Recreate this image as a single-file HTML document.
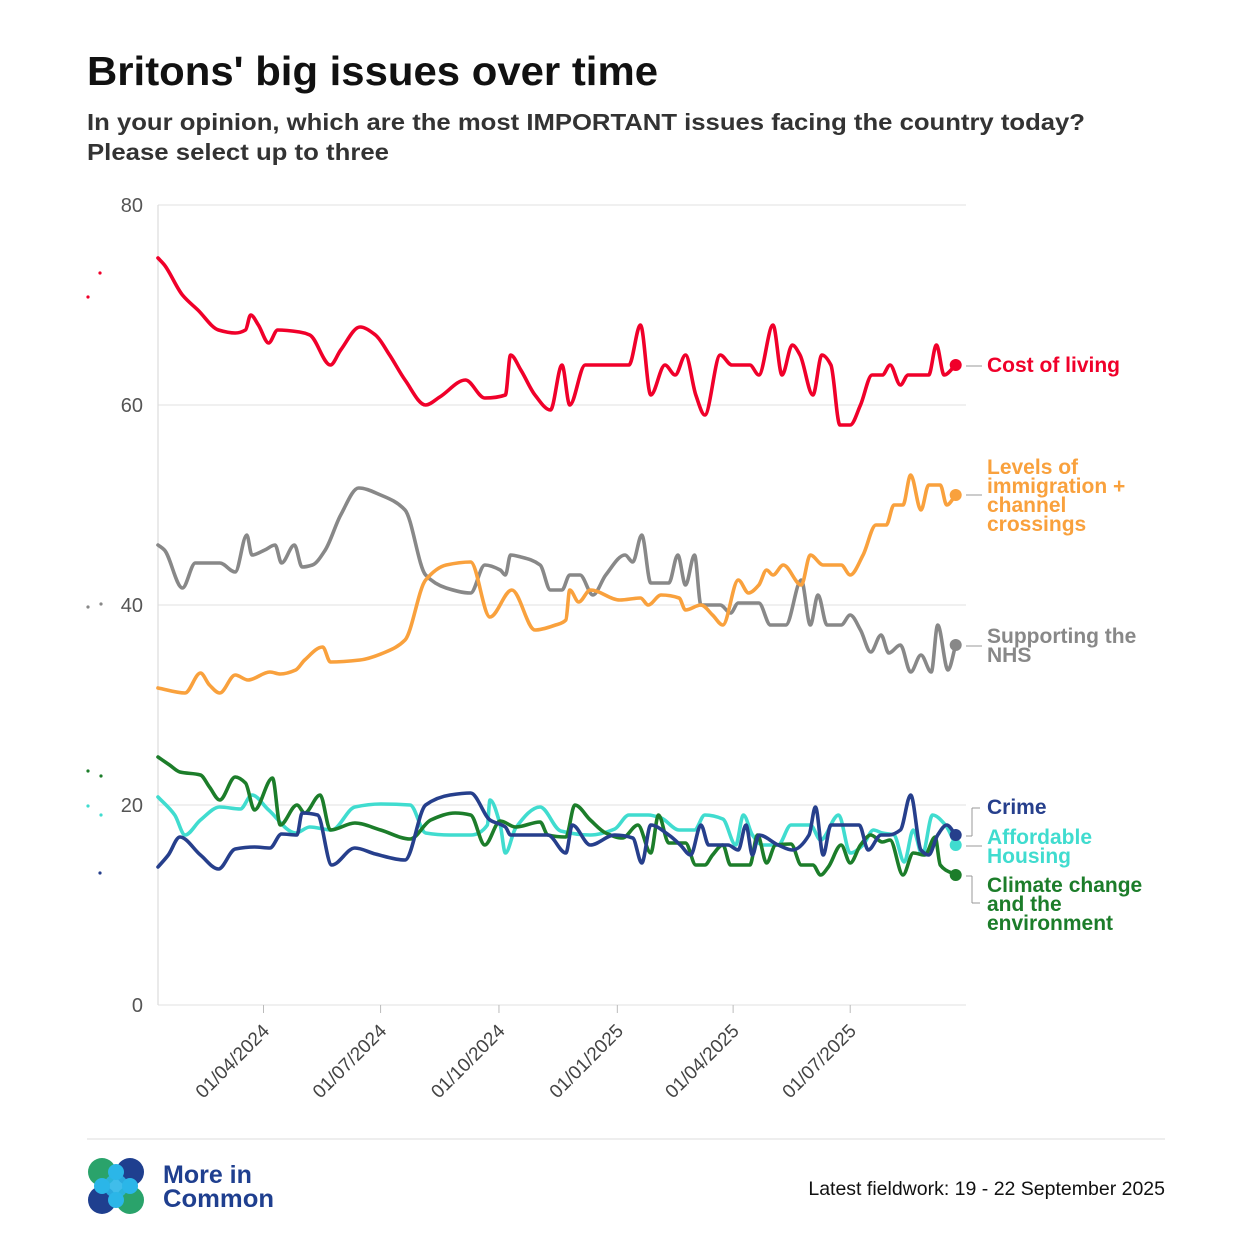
<!DOCTYPE html>
<html><head><meta charset="utf-8">
<style>
body{margin:0;background:#fff;width:1242px;height:1249px;overflow:hidden;font-family:"Liberation Sans",sans-serif}
svg text{font-family:"Liberation Sans",sans-serif}
</style></head>
<body>
<svg id="chart" width="1242" height="1249" viewBox="0 0 1242 1249" xmlns="http://www.w3.org/2000/svg">
<text x="87" y="85" font-size="41" font-weight="bold" fill="#111" textLength="571" lengthAdjust="spacingAndGlyphs">Britons' big issues over time</text>
<text x="87" y="130" font-size="23" font-weight="bold" fill="#333" textLength="998" lengthAdjust="spacingAndGlyphs">In your opinion, which are the most IMPORTANT issues facing the country today?</text>
<text x="87" y="160" font-size="23" font-weight="bold" fill="#333" textLength="302" lengthAdjust="spacingAndGlyphs">Please select up to three</text>
<g id="grid"></g><g id="lines"></g><g id="labels"></g>
<line x1="87" y1="1139" x2="1165" y2="1139" stroke="#ddd" stroke-width="1"/>
<g>
<circle cx="102" cy="1172" r="14" fill="#2aa36b"/><circle cx="130" cy="1172" r="14" fill="#1f3f8f"/>
<circle cx="102" cy="1200" r="14" fill="#1f3f8f"/><circle cx="130" cy="1200" r="14" fill="#2aa36b"/>
<circle cx="116" cy="1186" r="12" fill="#2bb6e8" opacity="0.9"/>
<circle cx="116" cy="1172" r="8" fill="#2bb6e8"/><circle cx="116" cy="1200" r="8" fill="#2bb6e8"/>
<circle cx="102" cy="1186" r="8" fill="#2bb6e8"/><circle cx="130" cy="1186" r="8" fill="#2bb6e8"/>
<text x="163" y="1183" font-size="25" font-weight="bold" fill="#1f3f8f">More in</text>
<text x="163" y="1207" font-size="25" font-weight="bold" fill="#1f3f8f" textLength="111" lengthAdjust="spacingAndGlyphs">Common</text>
</g>
<text x="1165" y="1195" font-size="19.5" fill="#111" text-anchor="end">Latest fieldwork: 19 - 22 September 2025</text>
</svg>
<script>
const yTicks=[0,20,40,60,80];
const xTickDays=[82,173,265,357,447,538];
const xTickLabels=["01/04/2024","01/07/2024","01/10/2024","01/01/2025","01/04/2025","01/07/2025"];
const costDays=[0,5,19,31,47,60,68,72,78,86,93,110,118,134,142,157,169,180,192,208,219,239,254,270,274,282,293,305,314,320,332,344,366,375,383,394,402,410,418,425,437,446,460,467,478,485,493,499,509,516,523,530,538,546,555,563,569,577,583,599,605,611,620];
const costVals=[74.7,74,71,69.5,67.5,67.2,67.5,69,68,66.2,67.5,67.3,67,64,65.5,67.8,67,65,62.5,60,60.8,62.5,60.7,61,65,63.5,61,59.5,64,60,64,64,64,68,61,64,63,65,61,59,65,64,64,63,68,63,66,65,61,65,64,58,58,60,63,63,64,62,63,63,66,63,64];
const immDays=[0,21,33,40,48,60,70,87,95,107,114,128,134,157,177,192,208,224,243,258,275,293,309,317,320,327,336,359,375,381,391,405,410,422,431,439,451,459,467,473,478,486,500,507,517,531,538,548,558,566,572,579,585,593,599,608,613,620];
const immVals=[31.7,31.2,33.2,32,31.2,33,32.5,33.3,33.1,33.5,34.5,35.8,34.3,34.5,35.3,36.5,42.5,44,44.3,38.8,41.5,37.5,38,38.5,41.5,40.3,41.5,40.5,40.7,40,41,40.7,39.5,40,39,38,42.5,41.2,42,43.5,43,44,42,45,44,44,43,45,48,48,50,50,53,49.5,52,52,50,51];
const nhsDays=[0,5,19,29,48,60,69,73,83,91,96,106,112,120,130,142,156,173,192,208,224,243,254,266,270,274,282,297,305,314,320,328,338,348,363,369,376,383,397,404,410,417,422,437,445,451,467,476,488,500,507,513,520,531,538,546,554,562,568,577,585,593,601,606,614,620];
const nhsVals=[46,45.5,41.7,44.2,44.2,43.3,47,45,45.5,46,44.2,46,43.8,44,45.5,49,51.7,51,49.5,43,41.7,41.2,44,43.5,43,45,44.8,44,41.5,41.5,43,43,41,43,45,44.3,47,42.2,42.2,45,42,45,40,40,39.2,40.2,40.2,38,38,42.5,38,41,38,38,39,37.5,35.3,37,35.2,36,33.3,35,33.3,38,33.5,36];
const crimeDays=[0,8,17,33,47,60,75,87,96,108,112,124,135,153,169,192,208,227,243,258,270,274,289,303,317,322,336,355,369,376,383,397,406,414,422,428,443,451,457,462,467,482,493,506,511,517,523,537,545,552,562,568,577,585,593,599,606,613,620];
const crimeVals=[13.8,15,16.8,15,13.6,15.6,15.8,15.7,17.1,17,19.2,19,14,15.7,15.1,14.5,20,21,21.2,18.5,17.8,17,17,17,15.2,18,16,17,16.7,14.2,18,17,16,15,18,16,16,15.5,18,15,17,16,15.5,17,19.8,15,18,18,18,15.5,17,17,17.5,21,15.5,15,17,18,17];
const houseDays=[0,13,21,33,48,64,73,86,107,118,135,153,173,196,208,227,243,256,258,266,270,278,297,313,336,355,366,381,391,405,417,425,439,449,455,462,470,482,492,507,515,529,538,548,556,563,572,580,587,594,602,612,620];
const houseVals=[20.8,19,17,18.5,19.8,19.6,21,19.5,17.2,17.8,17.5,19.8,20.1,20,17.2,17,17,18,20.5,18,15.2,17.7,19.8,17.4,17,17.6,19,19,18.7,17.5,17.5,19,18.6,16,19,17,16,16,18,18,16.5,19,15.2,16,17.5,17.2,17,14.3,17.5,15,19,18,16];
const climDays=[0,9,17,33,40,48,60,68,75,89,95,108,114,126,134,153,173,196,212,231,243,254,266,278,297,303,317,324,336,348,361,373,383,389,397,410,418,425,431,439,445,460,466,473,480,492,500,509,515,521,531,538,546,554,563,569,579,587,596,604,608,620];
const climVals=[24.8,24,23.3,23,21.8,20.5,22.8,22.2,19.5,22.7,18,20,19.2,21,17.5,18.2,17.5,16.6,18.5,19.2,19,16,18.4,17.8,18.3,17,16.8,20,18.5,17.2,16.7,18,15.2,19,16.2,16.2,14,14,15,16,14,14,17,14.2,16,16.1,14,14,13,13.8,16,14.2,16,17,16.3,16.5,13,15.2,15,16.8,14,13];

const X0=158,X1=966,Y0=1005,Y1=205,DAYMAX=628;
const xs=d=>X0+d*(X1-X0)/DAYMAX;
const ys=v=>Y0-(v/80)*(Y0-Y1);
const NS="http://www.w3.org/2000/svg";
function mk(tag,attrs,parent,txt){const e=document.createElementNS(NS,tag);for(const k in attrs)e.setAttribute(k,attrs[k]);if(txt!==undefined)e.textContent=txt;parent.appendChild(e);return e;}
const grid=document.getElementById('grid'),lines=document.getElementById('lines'),labels=document.getElementById('labels');
yTicks.forEach(t=>{
 const l=mk('line',{x1:X0,x2:X1,y1:ys(t),y2:ys(t),stroke:'#e6e6e6','stroke-width':1.2},grid);
 
 
 const tx=mk('text',{x:143,y:ys(t)+7,'font-size':20,fill:'#555','text-anchor':'end'},grid,String(t));
 
 
});
const ax=mk('line',{x1:X0,x2:X0,y1:Y1,y2:Y0,stroke:'#ddd','stroke-width':1.2},grid);


xTickDays.forEach((d,i)=>{
 const x=xs(d);
 const tk=mk('line',{x1:x,x2:x,y1:Y0,y2:Y0+8,stroke:'#bbb'},grid);
 
 
 const t=mk('text',{x:x+7,y:Y0+27,'font-size':19,fill:'#444','text-anchor':'end',transform:`rotate(-45 ${x+7} ${Y0+27})`},grid,xTickLabels[i]);
 
 
});
function monotone(pts){
 const n=pts.length;if(n<2)return '';
 const dx=[],dy=[],m=[];
 for(let i=0;i<n-1;i++){dx.push(pts[i+1][0]-pts[i][0]);dy.push(pts[i+1][1]-pts[i][1]);m.push(dy[i]/dx[i]);}
 const t=[m[0]];
 for(let i=1;i<n-1;i++){ if(m[i-1]*m[i]<=0)t.push(0); else {const w1=2*dx[i]+dx[i-1],w2=dx[i]+2*dx[i-1];t.push((w1+w2)/(w1/m[i-1]+w2/m[i]));}}
 t.push(m[n-2]);
 let d=`M${pts[0][0]},${pts[0][1]}`;
 for(let i=0;i<n-1;i++){const h=dx[i]/3;d+=`C${pts[i][0]+h},${pts[i][1]+t[i]*h} ${pts[i+1][0]-h},${pts[i+1][1]-t[i+1]*h} ${pts[i+1][0]},${pts[i+1][1]}`;}
 return d;
}
const series=[
 {name:'supporting-the-nhs',days:nhsDays,vals:nhsVals,color:'#888888'},
 {name:'levels-of-immigration',days:immDays,vals:immVals,color:'#f9a13d'},
 {name:'affordable-housing',days:houseDays,vals:houseVals,color:'#40dccf'},
 {name:'climate-change',days:climDays,vals:climVals,color:'#1c7d2a'},
 {name:'crime',days:crimeDays,vals:crimeVals,color:'#263f8c'},
 {name:'cost-of-living',days:costDays,vals:costVals,color:'#f0002a'}
];
series.forEach(s=>{
 const pts=s.days.map((d,i)=>[xs(d),ys(s.vals[i])]);
 const p=mk('path',{d:monotone(pts),fill:'none',stroke:s.color,'stroke-width':3.6,'stroke-linejoin':'round','stroke-linecap':'round'},lines);
 
 
 const last=pts[pts.length-1];
 const c=mk('circle',{cx:last[0],cy:last[1],r:6,fill:s.color},lines);
 
 
});
function label(lines_,x,y,color,name,lh){
 const t=mk('text',{x:x,y:y,'font-size':21,'font-weight':'bold',fill:color},labels);
 
 
 lines_.forEach((l,i)=>{mk('tspan',{x:x,dy:i?lh:0},t,l);});
}
label(['Cost of living'],987,372,'#f0002a','cost-of-living-label',19);
label(['Levels of','immigration +','channel','crossings'],987,474,'#f9a13d','immigration-label',19);
label(['Supporting the','NHS'],987,643,'#888888','nhs-label',19);
label(['Crime'],987,814,'#263f8c','crime-label',19);
label(['Affordable','Housing'],987,844,'#40dccf','affordable-housing-label',19);
label(['Climate change','and the','environment'],987,892,'#1c7d2a','climate-label',19);
[[966,366,982,366],[966,495,982,495],[966,646,982,646],[966,836,972,836],[972,808,972,836],[972,808,980,808],[966,846,982,846],[966,876,972,876],[972,876,972,903],[972,903,980,903]].forEach(a=>{
 const l=mk('line',{x1:a[0],y1:a[1],x2:a[2],y2:a[3],stroke:'#999','stroke-width':1},labels);
 
 
});
[[100,273,'#f0002a'],[88,297,'#f0002a'],[88,607,'#888'],[101,604,'#888'],[88,771,'#1c7d2a'],[101,776,'#1c7d2a'],[88,806,'#40dccf'],[101,815,'#40dccf'],[100,873,'#263f8c']].forEach(a=>{
 const c=mk('circle',{cx:a[0],cy:a[1],r:1.6,fill:a[2]},labels);
 
 
});
</script>
</body></html>
